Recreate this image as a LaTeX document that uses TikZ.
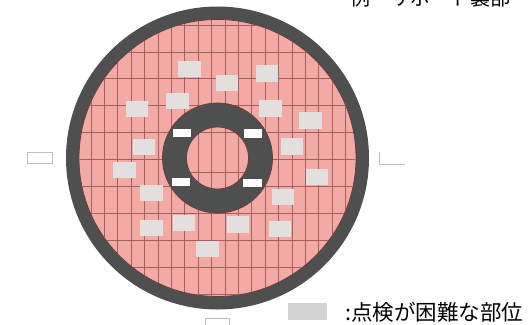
\documentclass[tikz,border=0pt]{standalone}
\usepackage{fontspec}
\newfontfamily\jpfont{Noto Sans CJK JP}
\usetikzlibrary{positioning}
\definecolor{ringgray}{RGB}{78,80,80}
\definecolor{padpink}{RGB}{243,170,165}
\definecolor{gridred}{RGB}{165,95,95}
\definecolor{rimred}{RGB}{105,60,60}
\definecolor{hardgray}{RGB}{226,224,222}
\definecolor{keygray}{RGB}{211,211,211}
\definecolor{tabgray}{RGB}{190,190,190}
\tikzset{
    hardbox/.style={fill=hardgray,draw=none,minimum width=0.78cm,minimum height=0.57cm,inner sep=0pt},
    whitetag/.style={fill=white,draw=none,minimum width=0.65cm,minimum height=0.31cm,inner sep=0pt},
    sidetag/.style={draw=tabgray,line width=1.3pt,fill=white,minimum width=0.86cm,minimum height=0.4cm,inner sep=0pt},
    gridline/.style={draw=gridred,line width=1pt},
    jptext/.style={font=\jpfont\fontsize{21.5pt}{24pt}\selectfont,inner sep=0pt,anchor=west}
}
\begin{document}
\begin{tikzpicture}[x=1pt,y=-1pt]
    \useasboundingbox (0,0) rectangle (532,324);
    \coordinate (hub) at (217.5,158);
    % outer ring and pad
    \fill[ringgray] (hub) circle (151.5);
    \fill[padpink] (hub) circle (138.5);
    \begin{scope}
        \clip (hub) circle (138);
        \foreach \gx in {-11,...,11} {
            \draw[gridline] (225+13.4*\gx,0) -- (225+13.4*\gx,324);
        }
        \foreach \gy in {-1,...,9} {
            \draw[gridline] (0,52+26.9*\gy) -- (532,52+26.9*\gy);
        }
    \end{scope}
    \draw[rimred,line width=0.8pt] (hub) circle (138.5);
    % inner ring
    \fill[ringgray] (hub) circle (55);
    \draw[rimred,line width=0.8pt] (hub) circle (55);
    \fill[padpink] (hub) circle (31);
    \begin{scope}
        \clip (hub) circle (31);
        \foreach \gx in {-2,...,2} {
            \draw[gridline] (225+13.4*\gx,120) -- (225+13.4*\gx,200);
        }
        \draw[gridline] (180,132) -- (255,132);
        \draw[gridline] (180,172.5) -- (255,172.5);
    \end{scope}
    \draw[rimred,line width=0.8pt] (hub) circle (31);
    % hard to inspect parts
    \foreach \bx/\by [count=\bi] in {189.5/69, 227/83, 177.5/101, 137/109, 144/147, 124.5/170,
        267/73.5, 270.5/108.5, 310.5/120.5, 292/146.5, 317/177, 283/197,
        151.5/193, 151.5/228, 184/223, 238/224.5, 280/229, 207.5/249} {
        \node[hardbox] (hard\bi) at (\bx,\by) {};
    }
    % white tags on the ring
    \node[whitetag] (tagA) at (182,133) {};
    \node[whitetag] (tagB) at (253,133.5) {};
    \node[whitetag] (tagC) at (181,182) {};
    \node[whitetag] (tagD) at (252.5,183) {};
    % tags outside
    \node[sidetag] (tagL) at (40,158) {};
    \node[sidetag,draw=none,fill=none] (tagR) at (392.5,158.5) {};
    \draw[tabgray,line width=1.2pt] (tagR.north west) -- (tagR.south west) -- (tagR.south east);
    \node[sidetag] (tagS) at (217.5,324) {};
    % legend
    \node[fill=keygray,minimum width=1.38cm,minimum height=0.6cm,inner sep=0pt] (legendkey) at (307.5,311.5) {};
    \node[jptext] (legendtxt) at (345,312) {:点検が困難な部位};
    \node[jptext,font=\jpfont\fontsize{20pt}{24pt}\selectfont] (titletxt) at (350,-2) {例　サポート裏部};
\end{tikzpicture}
\end{document}
